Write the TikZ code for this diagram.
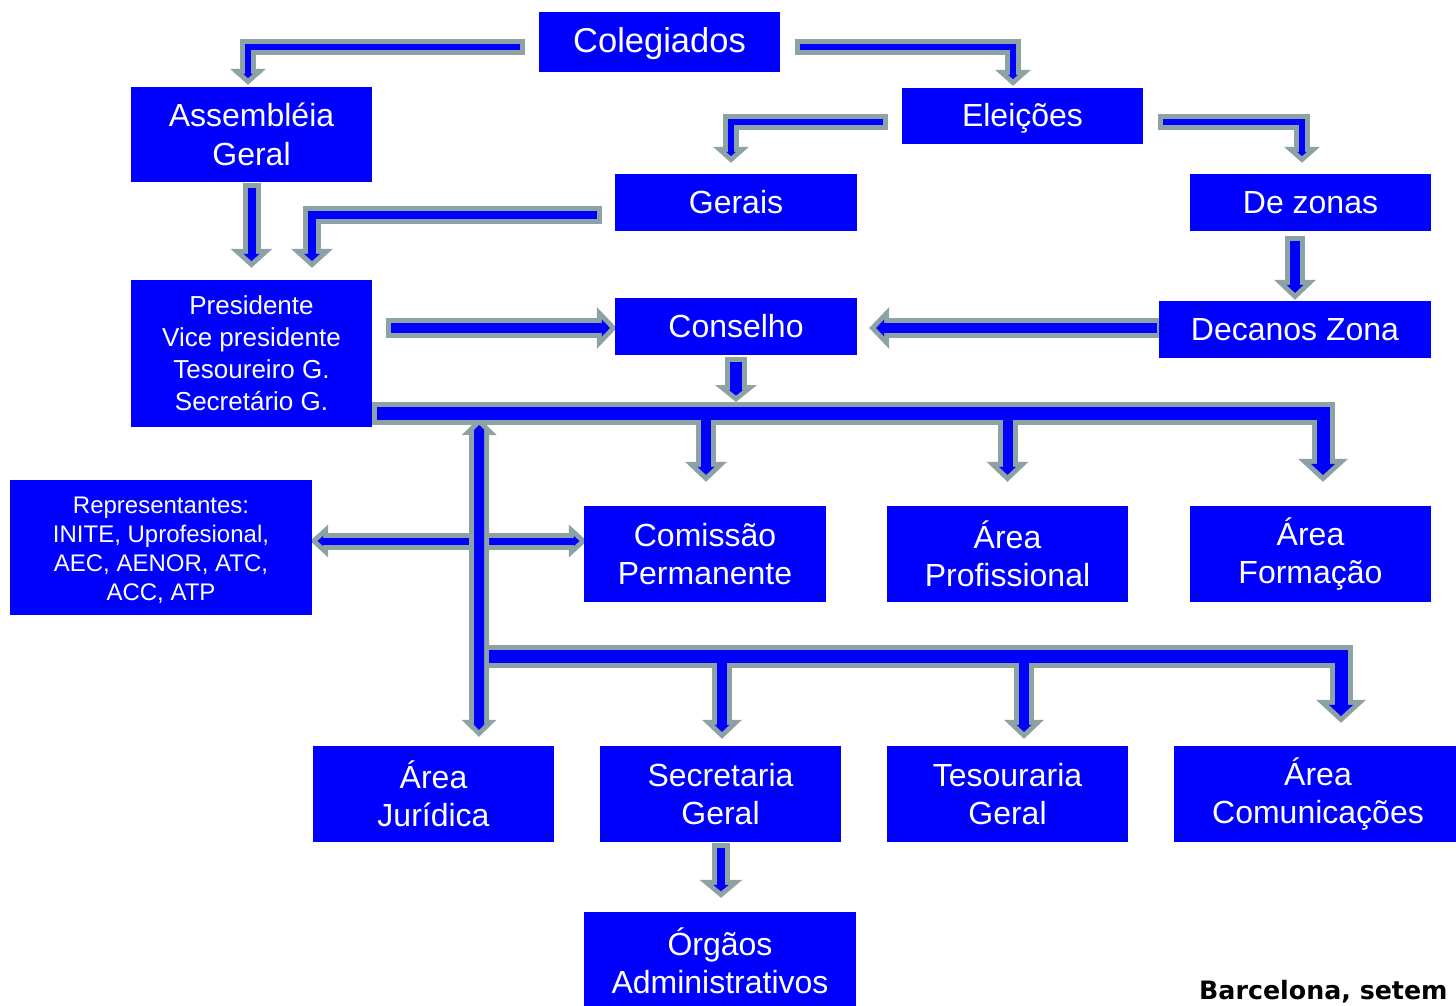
\documentclass[tikz,border=0pt]{standalone}
\usepackage{fontspec}
\setmainfont{Liberation Sans}
\newfontfamily\capfont{DejaVu Sans}
\usetikzlibrary{arrows.meta,calc}
\definecolor{agray}{RGB}{140,162,164}
\definecolor{ablue}{RGB}{0,0,255}
\pgfdeclarelayer{bg}
\pgfdeclarelayer{gl0}
\pgfdeclarelayer{bl0}
\pgfdeclarelayer{gl}
\pgfdeclarelayer{bl}
\pgfsetlayers{bg,gl0,bl0,gl,bl,main}
\def\bb{5}
\def\lg{gl}
\def\lb{bl}
\tikzset{
  tipe/.style={arrows={-{#1}}},
  tipb/.style={arrows={{#1}-{#1}}},
  shte/.style={shorten >=\bs pt, shorten <=\bb pt},
  shtb/.style={shorten >=\bs pt, shorten <=\bs pt},
  box/.style={fill=ablue, text=white, inner sep=0pt, align=center,
    font=\fontsize{32}{38.5}\selectfont},
  oneline/.style={text height=28pt, text depth=6pt},
}
% #1 e/b, #2 shaft width, #3 head width, #4 head length, #5 path
\newcommand\blk[5]{%
  \pgfmathsetmacro\bW{#2-2*\bb}%
  \pgfmathsetmacro\bs{\bb/sin(atan((#3/2)/#4))}%
  \pgfmathsetmacro\bL{#4-\bb-\bs}%
  \pgfmathsetmacro\bH{#3*\bL/#4}%
  \begin{pgfonlayer}{\lg}
    \draw[draw=agray, line width=#2pt, tip#1={Triangle[width=#3pt,length=#4pt,line width=0pt]}] #5;
  \end{pgfonlayer}
  \begin{pgfonlayer}{\lb}
    \draw[draw=ablue, line width=\bW pt, sht#1, tip#1={Triangle[width=\bH pt,length=\bL pt,line width=0pt]}] #5;
  \end{pgfonlayer}}
\begin{document}
\begin{tikzpicture}[x=1pt,y=-1pt]
\begin{pgfonlayer}{bg}
\fill[white] (0,0) rectangle (1456,1006);
\end{pgfonlayer}
\useasboundingbox (0,0) rectangle (1456,1006);

% boxes
\node[box, oneline, minimum width=241pt, minimum height=60pt, font=\fontsize{34.5}{40}\selectfont] (col) at (659.5,42) {Colegiados};
\node[box, minimum width=241pt, minimum height=95pt] (asm) at (251.5,134.5) {Assembléia\\Geral};
\node[box, oneline, minimum width=241pt, minimum height=56pt] (ele) at (1022.5,116) {Eleições};
\node[box, oneline, minimum width=242pt, minimum height=57pt] (ger) at (736,202.5) {Gerais};
\node[box, oneline, minimum width=241pt, minimum height=57pt] (dez) at (1310.5,202.5) {De zonas};
\node[box, minimum width=241pt, minimum height=147pt, font=\fontsize{26}{32}\selectfont] (pre) at (251.5,353.5) {Presidente\\Vice presidente\\Tesoureiro G.\\Secretário G.};
\node[box, oneline, minimum width=242pt, minimum height=57pt] (con) at (736,326.5) {Conselho};
\node[box, oneline, minimum width=272pt, minimum height=57pt] (dec) at (1295,329.5) {Decanos Zona};
\node[box, minimum width=302pt, minimum height=135pt] (rep) at (161,547.5) {};
\node[align=center, text=white, inner sep=0pt, font=\fontsize{24}{29}\selectfont] (reptext) at ($(rep.center)+(0,3)$) {Representantes:\\INITE, Uprofesional,\\AEC, AENOR, ATC,\\ACC, ATP};
\node[box, minimum width=242pt, minimum height=96pt] (com) at (705,554) {Comissão\\Permanente};
\node[box, minimum width=241pt, minimum height=96pt] (apr) at (1007.5,554) {Área\\Profissional};
\node[box, minimum width=241pt, minimum height=96pt] (afo) at (1310.5,554) {Área\\Formação};
\node[box, minimum width=241pt, minimum height=96pt] (aju) at (433.5,794) {Área\\Jurídica};
\node[box, minimum width=241pt, minimum height=96pt] (sec) at (720.5,794) {Secretaria\\Geral};
\node[box, minimum width=241pt, minimum height=96pt] (tes) at (1007.5,794) {Tesouraria\\Geral};
\node[box, minimum width=288pt, minimum height=96pt] (aco) at (1318,794) {Área\\Comunicações};
\node[box, minimum width=272pt, minimum height=98pt] (org) at (720,961) {Órgãos\\Administrativos};
\node[anchor=base west, inner sep=0pt, font=\capfont\bfseries\fontsize{25.3}{30}\selectfont] (bar) at (1199,999) {Barcelona, setem};

\coordinate (b1s) at ($(pre.east)+(0,59.5)$);
\coordinate (vt) at ($(b1s)+(107,5)$);
\coordinate (b2s) at (484,656);

% connectors
\blk{e}{16}{36}{16}{($(col.west)+(-14,5)$) -| ($(asm.north)+(-3.5,-2)$)}
\blk{e}{16}{36}{16}{($(col.east)+(15,5)$) -| ($(ele.north)+(-9.5,-2)$)}
\blk{e}{16}{36}{16}{($(ele.west)+(-14,6)$) -| ($(ger.north)+(-5,-11)$)}
\blk{e}{16}{36}{16}{($(ele.east)+(15,6)$) -| ($(dez.north)+(-8.5,-11)$)}
\blk{e}{18}{42}{19}{($(asm.south)+(0,1)$) -- ($(pre.north)+(0,-12)$)}
\blk{e}{18}{42}{19}{($(ger.west)+(-13,12.5)$) -| ($(pre.north)+(60.5,-12)$)}
\blk{e}{20}{42}{20}{($(pre.east)+(14,-25.5)$) -- ($(con.west)+(2,1.5)$)}
\blk{e}{20}{42}{20}{($(dec.west)+(3,-1.5)$) -- ($(con.east)+(12,1.5)$)}
\blk{e}{20}{42}{20}{($(dez.south)+(-15.5,5)$) -- ($(dec.north)+(0,-1)$)}
\blk{e}{22}{42}{17}{($(con.south)+(0,2)$) -- ($(con.south |- b1s)+(0,-11)$)}
\blk{e}{23}{50}{23}{(b1s) -| ($(afo.north)+(12.5,-24)$)}
\blk{e}{20}{42}{20}{($(com.north |- b1s)+(1,0)$) -- ($(com.north)+(1,-24)$)}
\blk{e}{20}{42}{20}{(apr.north |- b1s) -- ($(apr.north)+(0,-24)$)}
\def\lg{gl0}\def\lb{bl0}
\blk{b}{17}{33}{18}{($(rep.east)+(-2,-6.5)$) -- ($(com.west)+(3,-13)$)}
\def\lg{gl}\def\lb{bl}
\blk{b}{20}{35}{17}{(vt) -- ($(aju.north)+(45.5,-9)$)}
\blk{e}{23}{50}{23}{(b2s) -| ($(aco.north)+(23,-23)$)}
\blk{e}{20}{40}{19}{($(sec.north |- b2s)+(1.5,0)$) -- ($(sec.north)+(1.5,-7)$)}
\blk{e}{20}{40}{19}{($(tes.north |- b2s)+(16.5,0)$) -- ($(tes.north)+(16.5,-7)$)}
\blk{e}{18}{43}{18}{($(sec.south)+(0.5,1)$) -- ($(org.north)+(1,-14)$)}
\end{tikzpicture}
\end{document}
